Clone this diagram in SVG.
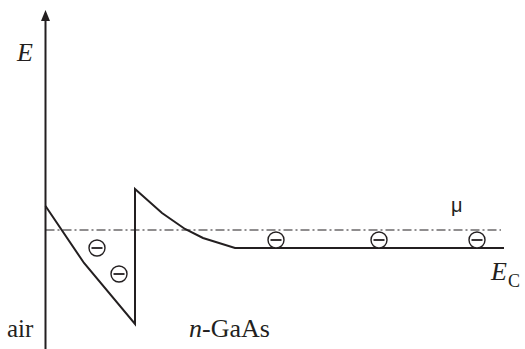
<svg xmlns="http://www.w3.org/2000/svg" width="525" height="349" viewBox="0 0 525 349">
<defs>
<style>
.ln{fill:none;stroke:#231f20;stroke-width:2}
.dd{fill:none;stroke:#231f20;stroke-width:1.2;stroke-dasharray:9 3 2 3}
.el circle{fill:#fff;stroke:#231f20;stroke-width:1.4}
.el line{stroke:#231f20;stroke-width:1.8}
</style>
<g id="electron" class="el"><circle cx="0" cy="0" r="8"/><line x1="-5.5" y1="0" x2="5.5" y2="0"/></g>
</defs>
<rect width="525" height="349" fill="#fff"/>
<g id="axis">
<line class="ln" x1="45.5" y1="349" x2="45.5" y2="18"/>
<polygon points="45.5,10 41,21 50,21" fill="#231f20"/>
<text x="17" y="61" font-family="'Liberation Serif', serif" font-size="26" font-style="italic" fill="#231f20">E</text>
</g>
<g id="connectors">
<polyline class="ln" points="45.5,206 84,263 135,324 135,189 162,213 185,229 203,238 235,248 504,248"/>
<line class="dd" x1="45.5" y1="230" x2="501" y2="230"/>
</g>
<g id="electrons">
<use href="#electron" x="97" y="248"/>
<use href="#electron" x="119" y="274"/>
<use href="#electron" x="276" y="240"/>
<use href="#electron" x="379" y="240"/>
<use href="#electron" x="477" y="240"/>
</g>
<g id="labels">
<text x="451" y="212" font-family="'Liberation Sans', sans-serif" font-size="20" fill="#231f20">μ</text>
<text x="491" y="280" font-family="'Liberation Serif', serif" font-size="26" font-style="italic" fill="#231f20">E</text>
<text x="508" y="287" font-family="'Liberation Serif', serif" font-size="18" fill="#231f20">C</text>
<text x="7" y="337" font-family="'Liberation Serif', serif" font-size="25" fill="#231f20">air</text>
<text x="189" y="337" font-family="'Liberation Serif', serif" font-size="26" fill="#231f20"><tspan font-style="italic">n</tspan>-GaAs</text>
</g>
</svg>
